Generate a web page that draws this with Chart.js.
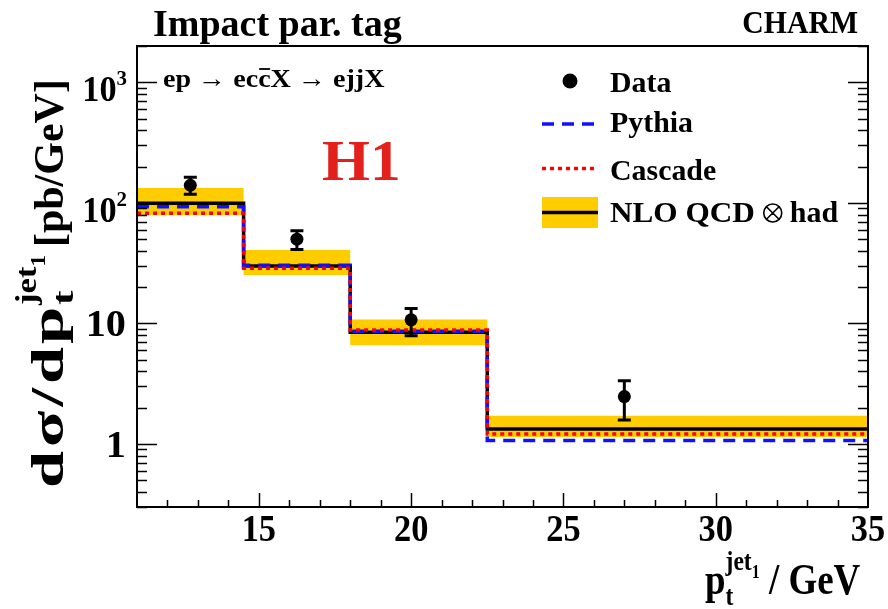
<!DOCTYPE html>
<html>
<head>
<meta charset="utf-8">
<script src="https://cdn.jsdelivr.net/npm/chart.js@4.4.0/dist/chart.umd.min.js"></script>
<style>
html, body { margin: 0; padding: 0; background: #fff; }
#wrap { width: 888px; height: 609px; }
</style>
</head>
<body>
<div id="wrap"><canvas id="chart" width="888" height="609"></canvas></div>
<script>
// bin edges and histogram values (pb/GeV)
var binEdges = [11, 14.5, 18, 22.5, 35];
var nloValues = [99, 30, 8.45, 1.33];
var nloUpper = [133, 40.6, 10.8, 1.71];
var nloLower = [79, 25.2, 6.6, 1.14];
var pythiaValues = [93, 30.3, 8.6, 1.07];
var cascadeValues = [82, 28.7, 8.8, 1.21];

// measured points
var dataX = [12.75, 16.25, 20, 27];
var dataY = [140, 50, 10.7, 2.47];
var dataErrUp = [23, 8.7, 2.6, 0.88];
var dataErrDown = [22, 8.9, 2.8, 0.89];

var xTickLabels = [15, 20, 25, 30, 35];
var yTickLabels = [1, 10, 100, 1000];

var FONT = '"Liberation Serif", "DejaVu Serif", serif';

function steps(vals) {
    var pts = vals.map(function (v, i) { return { x: binEdges[i], y: v }; });
    pts.push({ x: binEdges[binEdges.length - 1], y: vals[vals.length - 1] });
    return pts;
}

// bold serif text, stretched horizontally by sx
function txt(ctx, s, x, y, size, align, sx, color) {
    sx = sx || 1;
    ctx.save();
    ctx.font = 'bold ' + size + 'px ' + FONT;
    ctx.fillStyle = color || '#000';
    ctx.textBaseline = 'alphabetic';
    var w = ctx.measureText(s).width * sx;
    var x0 = x;
    if (align === 'center') x0 = x - w / 2;
    if (align === 'right') x0 = x - w;
    ctx.translate(x0, y);
    ctx.scale(sx, 1);
    ctx.textAlign = 'left';
    ctx.fillText(s, 0, 0);
    ctx.restore();
    return w;
}

// parts: [text, size, dy, backToLastStart, jumpToMax, gapAfter, sx]
function runs(ctx, parts, x, y, sx) {
    var cx = x, lastStart = x, maxX = x;
    parts.forEach(function (p) {
        if (p[3]) cx = lastStart;
        lastStart = cx;
        cx += txt(ctx, p[0], cx, y + p[2], p[1], 'left', p[6] || sx);
        if (cx > maxX) maxX = cx;
        if (p[4]) cx = maxX;
        cx += p[5] || 0;
    });
    return cx - x;
}

var decor = {
    id: 'decor',
    afterDatasetsDraw: function (chart) {
        var ctx = chart.ctx, xs = chart.scales.x, ys = chart.scales.y;
        ctx.save();
        ctx.strokeStyle = '#000';
        ctx.lineWidth = 3;
        for (var i = 0; i < dataX.length; i++) {
            var px = xs.getPixelForValue(dataX[i]);
            var top = ys.getPixelForValue(dataY[i] + dataErrUp[i]);
            var bot = ys.getPixelForValue(dataY[i] - dataErrDown[i]);
            ctx.beginPath();
            ctx.moveTo(px, top); ctx.lineTo(px, bot);
            ctx.moveTo(px - 6.5, top); ctx.lineTo(px + 6.5, top);
            ctx.moveTo(px - 6.5, bot); ctx.lineTo(px + 6.5, bot);
            ctx.stroke();
        }
        ctx.restore();
    },
    afterDraw: function (chart) {
        var ctx = chart.ctx, a = chart.chartArea;
        var xs = chart.scales.x, ys = chart.scales.y;
        ctx.save();
        ctx.strokeStyle = '#000';
        ctx.lineWidth = 2;
        ctx.strokeRect(a.left, a.top, a.right - a.left, a.bottom - a.top);

        // x ticks
        ctx.lineWidth = 1.5;
        ctx.beginPath();
        for (var v = 12; v <= 34; v++) {
            var px = Math.round(xs.getPixelForValue(v)) + 0.5;
            var len = (v % 5 === 0) ? 14 : 7;
            ctx.moveTo(px, a.bottom); ctx.lineTo(px, a.bottom - len);
        }
        // y ticks, left and right
        for (var d = -1; d <= 3; d++) {
            for (var m = 1; m <= 9; m++) {
                var val = m * Math.pow(10, d);
                if (val < ys.min || val > ys.max) continue;
                var py = Math.round(ys.getPixelForValue(val)) + 0.5;
                var l = (m === 1) ? 20 : 10;
                ctx.moveTo(a.left, py); ctx.lineTo(a.left + l, py);
                ctx.moveTo(a.right, py); ctx.lineTo(a.right - l, py);
            }
        }
        ctx.stroke();

        // x tick labels
        xTickLabels.forEach(function (t) {
            txt(ctx, String(t), xs.getPixelForValue(t), 541, 37, 'center', 0.93);
        });
        // y tick labels
        yTickLabels.forEach(function (t) {
            var py = ys.getPixelForValue(t);
            if (t < 100) {
                txt(ctx, String(t), 126, py + 13, 38, 'right', 1.06);
            } else {
                var e = String(Math.round(Math.log10(t)));
                var we = txt(ctx, e, 127, py + 3, 22, 'right', 0.95);
                txt(ctx, '10', 127 - we, py + 19, 36, 'right', 0.95);
            }
        });

        // titles and labels
        txt(ctx, 'Impact par. tag', 153, 36, 38, 'left', 1.0);
        txt(ctx, 'CHARM', 858, 33, 32, 'right', 0.93);
        txt(ctx, 'H1', 322, 180, 56, 'left', 1.1, '#e3211c');

        // reaction
        var x0 = 163, by = 87, fs = 26, rsx = 1.08;
        var w1 = txt(ctx, 'ep \u2192 ec', x0, by, fs, 'left', rsx);
        var wc = txt(ctx, 'c', x0 + w1, by, fs, 'left', rsx);
        ctx.lineWidth = 1.8;
        ctx.beginPath();
        ctx.moveTo(x0 + w1 + 1, by - 18); ctx.lineTo(x0 + w1 + wc - 0.5, by - 18);
        ctx.stroke();
        txt(ctx, 'X \u2192 ejjX', x0 + w1 + wc, by, fs, 'left', rsx);

        // y axis title
        ctx.save();
        ctx.translate(63, 488);
        ctx.rotate(-Math.PI / 2);
        runs(ctx, [
            ['d', 46, 0, false, false, 4],
            ['\u03c3', 46, 0, false, false, 4],
            ['/', 46, 0, false, false, 4],
            ['d', 46, 0, false, false, 3],
            ['p', 46, 0, false, false, 2],
            ['t', 30, 10, false, false],
            ['jet', 30, -27, true, false, 0, 1.15],
            ['1', 20, -18, false, true, 8, 1.15],
            ['[pb/GeV]', 42, 0, false, false, 0, 1.0]
        ], 0, 0, 1.45);
        ctx.restore();

        // x axis title
        runs(ctx, [
            ['p', 44, 0, false, false],
            ['t', 28, 11, false, false],
            ['jet', 28, -24, true, false],
            ['1', 19, -16, false, true],
            [' / GeV', 44, 0, false, false]
        ], 705, 594, 0.84);

        // legend
        ctx.fillStyle = '#000';
        ctx.beginPath();
        ctx.arc(570, 81, 7.5, 0, Math.PI * 2);
        ctx.fill();
        txt(ctx, 'Data', 610, 92, 29, 'left', 1.03);

        ctx.lineWidth = 3.5;
        ctx.strokeStyle = '#1010ff';
        ctx.setLineDash([12, 8]);
        ctx.beginPath(); ctx.moveTo(542, 124); ctx.lineTo(598, 124); ctx.stroke();
        txt(ctx, 'Pythia', 610, 132, 29, 'left', 1.03);

        ctx.strokeStyle = '#ff0000';
        ctx.setLineDash([4, 4]);
        ctx.beginPath(); ctx.moveTo(542, 168.5); ctx.lineTo(598, 168.5); ctx.stroke();
        txt(ctx, 'Cascade', 610, 180, 29, 'left', 1.03);

        ctx.setLineDash([]);
        ctx.fillStyle = '#ffcc00';
        ctx.fillRect(542, 197, 56, 31);
        ctx.strokeStyle = '#000';
        ctx.lineWidth = 3.5;
        ctx.beginPath(); ctx.moveTo(542, 212.5); ctx.lineTo(598, 212.5); ctx.stroke();
        var wn = txt(ctx, 'NLO QCD', 610, 222, 30, 'left', 1.04);
        var cx = 610 + wn + 18, cy = 213, r = 9;
        ctx.lineWidth = 1.6;
        ctx.beginPath();
        ctx.arc(cx, cy, r, 0, Math.PI * 2);
        ctx.moveTo(cx - r * 0.7, cy - r * 0.7); ctx.lineTo(cx + r * 0.7, cy + r * 0.7);
        ctx.moveTo(cx + r * 0.7, cy - r * 0.7); ctx.lineTo(cx - r * 0.7, cy + r * 0.7);
        ctx.stroke();
        txt(ctx, 'had', cx + r + 8, 222, 30, 'left', 1.0);
        ctx.restore();
    }
};

var ctx = document.getElementById('chart').getContext('2d');
var chart = new Chart(ctx, {
    type: 'line',
    data: {
        datasets: [
            {
                label: 'Data',
                data: dataX.map(function (x, i) { return { x: x, y: dataY[i] }; }),
                showLine: false,
                pointRadius: 6.5,
                pointBackgroundColor: '#000',
                pointBorderColor: '#000',
                pointBorderWidth: 0,
                order: 0
            },
            {
                label: 'Cascade',
                data: steps(cascadeValues),
                stepped: 'before',
                borderColor: '#ff0000',
                borderWidth: 3.5,
                borderDash: [4, 4],
                pointRadius: 0,
                fill: false,
                order: 1
            },
            {
                label: 'Pythia',
                data: steps(pythiaValues),
                stepped: 'before',
                borderColor: '#1010ff',
                borderWidth: 3.5,
                borderDash: [12, 8],
                pointRadius: 0,
                fill: false,
                order: 2
            },
            {
                label: 'NLO QCD \u2297 had',
                data: steps(nloValues),
                stepped: 'before',
                borderColor: '#000',
                borderWidth: 3.5,
                pointRadius: 0,
                fill: false,
                order: 3
            },
            {
                label: 'band up',
                data: steps(nloUpper),
                stepped: 'before',
                borderWidth: 0,
                borderColor: 'rgba(0,0,0,0)',
                backgroundColor: '#ffcc00',
                pointRadius: 0,
                fill: '+1',
                order: 4
            },
            {
                label: 'band down',
                data: steps(nloLower),
                stepped: 'before',
                borderWidth: 0,
                borderColor: 'rgba(0,0,0,0)',
                pointRadius: 0,
                fill: false,
                order: 5
            }
        ]
    },
    options: {
        responsive: false,
        animation: false,
        layout: { padding: { left: 137, top: 46, right: 20, bottom: 102 } },
        plugins: { legend: { display: false }, tooltip: { enabled: false } },
        scales: {
            x: { type: 'linear', min: 11, max: 35, display: false },
            y: { type: 'logarithmic', min: 0.3, max: 2000, display: false }
        }
    },
    plugins: [decor]
});
</script>
</body>
</html>
